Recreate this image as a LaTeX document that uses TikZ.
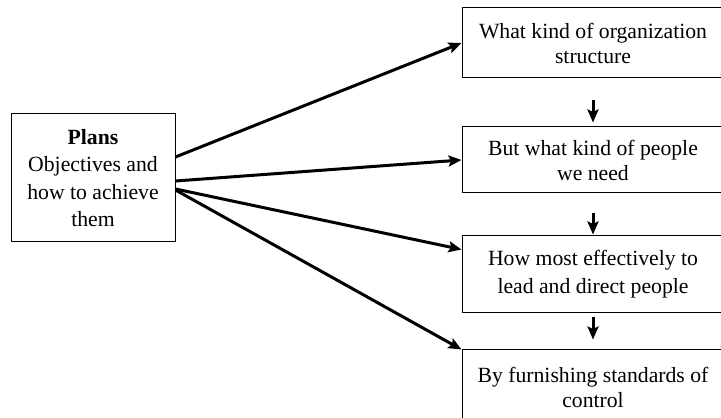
\documentclass[tikz,border=0pt]{standalone}
\usepackage{fontspec}
\setmainfont{Liberation Serif}
\usetikzlibrary{arrows.meta}
\begin{document}
\begin{tikzpicture}[x=1pt, y=1pt,
 box/.style={draw, line width=1pt, minimum width=262pt, align=center, inner sep=2pt,
  font=\fontsize{21.7}{25}\selectfont},
 link/.style={black, line width=3pt, ->, >={Stealth[length=13pt, width=11pt, inset=2.5pt]}}]
\useasboundingbox (0,0) rectangle (721,418);
\clip (0,0) rectangle (721,418);
\node[box, minimum width=164pt, minimum height=128pt, font=\fontsize{21.7}{27.5}\selectfont] (plans) at (93,240)
 {\textbf{Plans}\\Objectives and\\how to achieve\\them};
\node[box, minimum height=70pt] (org) at (593,375) {What kind of organization\\structure};
\node[box, minimum height=66pt] (people) at (593,258) {But what kind of people\\we need};
\node[box, minimum height=77pt, font=\fontsize{21.7}{28}\selectfont] (lead) at (593,143.5)
 {How most effectively to\\lead and direct people};
\node[box, minimum height=75pt] (control) at (593,30.5) {By furnishing standards of\\control};
\draw[link] ([yshift=21pt]plans.east) -- (org.west);
\draw[link] ([yshift=-3pt]plans.east) -- (people.west);
\draw[link] ([yshift=-11pt]plans.east) -- ([yshift=25pt]lead.west);
\draw[link] ([yshift=-12pt]plans.east) -- (control.north west);
\draw[link, shorten <=22pt, shorten >=4pt] (org) -- (people);
\draw[link, shorten <=20pt, shorten >=1pt] (people) -- (lead);
\draw[link, shorten <=4pt, shorten >=10pt] (lead) -- (control);
\end{tikzpicture}
\end{document}
